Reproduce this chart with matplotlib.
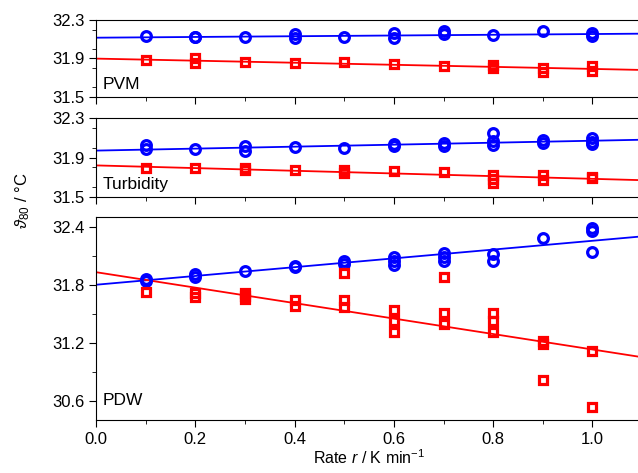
import matplotlib.pyplot as plt
from matplotlib.ticker import MultipleLocator

plt.rcParams['font.family'] = ['Liberation Sans', 'DejaVu Sans']
plt.rcParams['mathtext.fontset'] = 'custom'
plt.rcParams['mathtext.rm'] = 'Liberation Sans'
plt.rcParams['mathtext.it'] = 'Liberation Sans:italic'

# measured points: rate (K/min) and cloud point (deg C)
pvm_blue_r = [0.1, 0.2, 0.2, 0.3, 0.4, 0.4, 0.5, 0.6, 0.6, 0.7, 0.7, 0.8, 0.9, 1.0, 1.0]
pvm_blue_t = [32.13, 32.127, 32.12, 32.127, 32.15, 32.115, 32.12, 32.16, 32.11, 32.18, 32.15, 32.14, 32.18, 32.16, 32.13]
pvm_red_r = [0.1, 0.2, 0.2, 0.3, 0.4, 0.5, 0.6, 0.7, 0.8, 0.8, 0.9, 0.9, 1.0, 1.0]
pvm_red_t = [31.88, 31.905, 31.853, 31.867, 31.856, 31.864, 31.84, 31.825, 31.83, 31.80, 31.80, 31.76, 31.825, 31.773]

tur_blue_r = [0.1, 0.1, 0.2, 0.3, 0.3, 0.4, 0.5, 0.6, 0.6, 0.7, 0.7, 0.8, 0.8, 0.8, 0.9, 0.9, 1.0, 1.0, 1.0]
tur_blue_t = [32.03, 31.99, 31.99, 32.02, 31.97, 32.01, 31.995, 32.04, 32.02, 32.05, 32.02, 32.15, 32.07, 32.03, 32.075, 32.05, 32.10, 32.06, 32.04]
tur_red_r = [0.1, 0.2, 0.3, 0.3, 0.4, 0.5, 0.5, 0.6, 0.7, 0.8, 0.8, 0.8, 0.9, 0.9, 1.0, 1.0]
tur_red_t = [31.79, 31.79, 31.795, 31.77, 31.77, 31.777, 31.74, 31.76, 31.75, 31.72, 31.68, 31.64, 31.72, 31.67, 31.70, 31.69]

pdw_blue_r = [0.1, 0.1, 0.2, 0.2, 0.3, 0.4, 0.4, 0.5, 0.5, 0.6, 0.6, 0.6, 0.7, 0.7, 0.7, 0.8, 0.8, 0.9, 1.0, 1.0, 1.0]
pdw_blue_t = [31.86, 31.84, 31.91, 31.88, 31.94, 31.99, 31.98, 32.05, 32.01, 32.09, 32.05, 32.0, 32.13, 32.09, 32.05, 32.12, 32.05, 32.28, 32.39, 32.36, 32.14]
pdw_red_r = [0.1, 0.2, 0.2, 0.3, 0.3, 0.3, 0.4, 0.4, 0.5, 0.5, 0.5, 0.6, 0.6, 0.6, 0.7, 0.7, 0.7, 0.8, 0.8, 0.8, 0.9, 0.9, 0.9, 1.0, 1.0]
pdw_red_t = [31.72, 31.71, 31.67, 31.71, 31.68, 31.65, 31.64, 31.58, 31.92, 31.64, 31.57, 31.54, 31.42, 31.31, 31.88, 31.51, 31.39, 31.51, 31.42, 31.31, 31.22, 31.19, 30.81, 31.11, 30.53]

# linear fits: (intercept, slope)
pvm_fit = {'blue': (32.115, 0.038), 'red': (31.898, -0.107)}
tur_fit = {'blue': (31.97, 0.10), 'red': (31.82, -0.136)}
pdw_fit = {'blue': (31.80, 0.455), 'red': (31.93, -0.80)}

panels = [
    ('PVM', pvm_blue_r, pvm_blue_t, pvm_red_r, pvm_red_t, pvm_fit, (31.5, 32.3), 0.2),
    ('Turbidity', tur_blue_r, tur_blue_t, tur_red_r, tur_red_t, tur_fit, (31.5, 32.3), 0.2),
    ('PDW', pdw_blue_r, pdw_blue_t, pdw_red_r, pdw_red_t, pdw_fit, (30.4, 32.5), 0.3),
]
positions = [
    [0.1505, 0.795, 0.856, 0.163],
    [0.1505, 0.5835, 0.856, 0.167],
    [0.1505, 0.112, 0.856, 0.429],
]

fig = plt.figure(figsize=(6.38, 4.73), dpi=100)
xline = [0.0, 1.1]
for (name, br, bt, rr, rt, fit, ylim, minor), pos in zip(panels, positions):
    ax = fig.add_axes(pos)
    b0, b1 = fit['blue']
    r0, r1 = fit['red']
    ax.plot(xline, [b0 + b1 * x for x in xline], color='#0000ff', lw=1.3, zorder=2)
    ax.plot(xline, [r0 + r1 * x for x in xline], color='#ff0000', lw=1.3, zorder=2)
    ax.plot(br, bt, 'o', mfc='none', mec='#0000ff', mew=2.3, ms=7, ls='none', zorder=3)
    ax.plot(rr, rt, 's', mfc='none', mec='#ff0000', mew=2.3, ms=5.5, ls='none', zorder=3)
    ax.set_xlim(0, 1.1)
    ax.set_ylim(*ylim)
    if name == 'PDW':
        ax.set_yticks([30.6, 31.2, 31.8, 32.4])
    else:
        ax.set_yticks([31.5, 31.9, 32.3])
    ax.yaxis.set_minor_locator(MultipleLocator(minor))
    ax.xaxis.set_major_locator(MultipleLocator(0.2))
    ax.xaxis.set_minor_locator(MultipleLocator(0.1))
    ax.tick_params(which='both', direction='out', labelsize=12, top=False, right=False)
    ax.tick_params(which='major', length=5)
    ax.tick_params(which='minor', length=3)
    ax.spines['right'].set_visible(False)
    if name != 'PDW':
        ax.tick_params(axis='x', labelbottom=False)
    else:
        ax.set_xlabel(r'Rate $\it{r}$ / K min$^{-1}$', fontsize=11.5, labelpad=1)
    ax.text(0.012, 0.06, name, transform=ax.transAxes, fontsize=12.5, ha='left', va='bottom')

fig.text(0.035, 0.575, r'$\vartheta_{80}$ / °C', rotation=90, fontsize=12, ha='center', va='center')

fig.savefig('out.png', dpi=100)
